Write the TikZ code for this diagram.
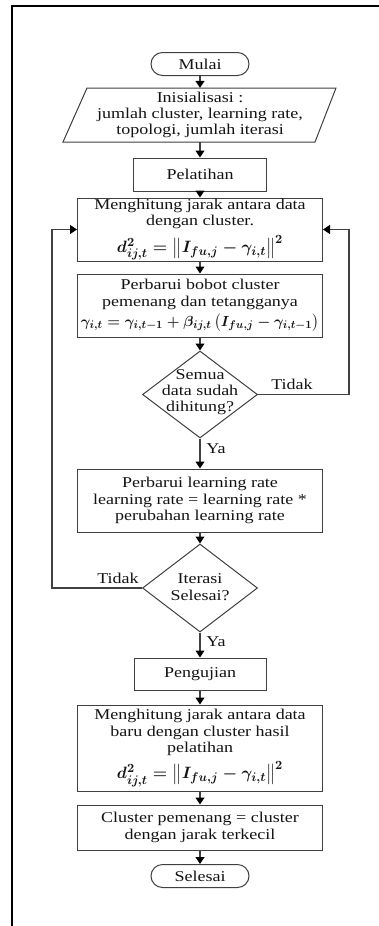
\documentclass[tikz,border=0pt]{standalone}
\usepackage{amsmath}
\usepackage{graphicx}
\usepackage{fontspec}
\setmainfont{Liberation Serif}[FakeStretch=1.2]
\usetikzlibrary{shapes.geometric,arrows.meta}
\newcommand{\fs}{\fontsize{15}{16.3}\selectfont}
\tikzset{
  boxline/.style={draw=black!75, line width=1pt},
  box/.style={boxline, minimum width=245pt, align=center, inner sep=0pt, text=black!92, font=\fs},
  term/.style={boxline, rounded corners=11.5pt, minimum width=98pt, minimum height=23pt, inner sep=0pt, text=black!92, font=\fs},
  dia/.style={boxline, diamond, aspect=1.32, minimum width=115pt, minimum height=87pt, inner sep=0pt},
  lbl/.style={text=black!92, font=\fs, align=center, inner sep=0pt},
  arr/.style={draw=black!75, line width=1.2pt, -{Triangle[width=9pt,length=7pt,color=black]}},
}
\begin{document}
\begin{tikzpicture}[x=1pt,y=-1pt]
\useasboundingbox (0,0) rectangle (378,926);
\fill[white] (0,0) rectangle (378,926);
\draw[line width=2.2pt, black] (12,926) -- (12,6) -- (380,6);

% nodes
\node[term] (mulai) at (200,64) {Mulai};
\node[lbl, minimum width=250pt, minimum height=54pt] (init) at (200,115) {Inisialisasi :\\jumlah cluster, learning rate,\\topologi, jumlah iterasi};
\draw[boxline] (63,142) -- (87,88) -- (336,88) -- (315,142) -- cycle;
\node[box, minimum width=133pt, minimum height=33pt] (pel) at (200,174.5) {Pelatihan};
\node[box, minimum height=63pt] (b1) at (200,229.5) {Menghitung jarak antara data\\dengan cluster.\\[5pt]\resizebox{166pt}{!}{\boldmath$d_{ij,t}^{2} = \left\| I_{fu,j} - \gamma_{i,t} \right\|^{2}$}};
\node[box, minimum height=63pt] (b2) at (200,305.5) {Perbarui bobot cluster\\pemenang dan tetangganya\\[4pt]\resizebox{238pt}{!}{\boldmath$\gamma_{i,t} = \gamma_{i,t-1} + \beta_{ij,t}\left(I_{fu,j} - \gamma_{i,t-1}\right)$}};
\node[dia] (d1) at (200,394.5) {};
\node[lbl] (d1t) at (200,392) {Semua\\data sudah\\dihitung?};
\node[box, minimum height=63pt] (b3) at (200,500.5) {Perbarui learning rate\\learning rate = learning rate *\\perubahan learning rate};
\node[dia, minimum height=88pt] (d2) at (200,588) {};
\node[lbl] (d2t) at (200,587) {Iterasi\\Selesai?};
\node[box, minimum width=132pt, minimum height=32pt] (peng) at (200,674) {Pengujian};
\node[box, minimum height=86pt] (b5) at (200,748) {Menghitung jarak antara data\\baru dengan cluster hasil\\pelatihan\\[5pt]\resizebox{166pt}{!}{\boldmath$d_{ij,t}^{2} = \left\| I_{fu,j} - \gamma_{i,t} \right\|^{2}$}};
\node[box, minimum height=45pt] (b6) at (200,827.5) {Cluster pemenang = cluster\\dengan jarak terkecil};
\node[term] (sel) at (200,876) {Selesai};

% labels
\node[lbl] (ya1) at (216,449) {Ya};
\node[lbl] (ya2) at (216,642) {Ya};
\node[lbl] (td1) at (292,384) {Tidak};
\node[lbl] (td2) at (118,578) {Tidak};

% connectors
\draw[arr] (mulai.south) -- (init.north);
\draw[arr] (init.south) -- (pel.north);
\draw[arr] (pel.south) -- (b1.north);
\draw[arr] (b1.south) -- (b2.north);
\draw[arr] (b2.south) -- (d1.north);
\draw[arr] (d1.south) -- (b3.north);
\draw[arr] (b3.south) -- (d2.north);
\draw[arr] (d2.south) -- (peng.north);
\draw[arr] (peng.south) -- (b5.north);
\draw[arr] (b5.south) -- (b6.north);
\draw[arr] (b6.south) -- (sel.north);
\draw[arr] (d1.east) -- ++(91,0) |- (b1.east);
\draw[arr] (d2.west) -- ++(-90,0) |- (b1.west);
\end{tikzpicture}
\end{document}
